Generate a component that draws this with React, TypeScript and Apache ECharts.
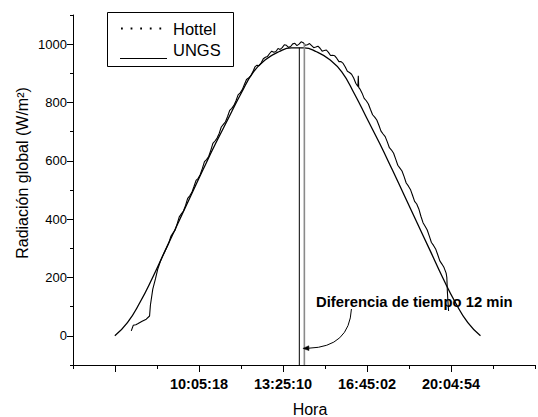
import React, { useEffect, useRef } from "react";
import * as echarts from "echarts";

// ---------- data ----------
const X_AXIS_START = "05:05:30";
const X_MINOR_STEP = "01:39:56";
const X_MINOR_COUNT = 11;
const X_MAJOR_TICKS = ["06:45:26", "10:05:18", "13:25:10", "16:45:02", "20:04:54"];
const X_TICK_LABELS = ["10:05:18", "13:25:10", "16:45:02", "20:04:54"];

const Y_MIN = -100;
const Y_MAX = 1100;
const Y_TICKS = [0, 200, 400, 600, 800, 1000];

const HOTTEL_TIMES = [
  "06:45", "07:15", "07:45", "08:15", "08:45", "09:15", "09:45", "10:15", "10:45", "11:15",
  "11:45", "12:15", "12:45", "13:15", "13:45", "14:15", "14:45", "15:15", "15:45", "16:15",
  "16:45", "17:15", "17:45", "18:15", "18:45", "19:15", "19:45", "20:15", "20:45", "21:15",
];
const HOTTEL_VALUES = [
  0, 45, 115, 200, 293, 385, 478, 570, 660, 745,
  830, 905, 948, 974, 987, 987, 974, 948, 905, 830,
  745, 660, 570, 478, 385, 293, 200, 115, 45, 0,
];

const UNGS_POINTS: [string, number][] = [
  ["07:24:10", 17], ["07:28:50", 36], ["07:35:00", 38], ["07:40:30", 42], ["07:50:00", 50],
  ["07:59:50", 57], ["08:07:40", 68], ["08:09:40", 105], ["08:15:20", 160], ["08:21:40", 195],
  ["08:27:00", 228], ["08:33:20", 255], ["08:38:40", 273], ["08:46:20", 296],
  ["08:53:20", 318], ["08:58:20", 341], ["09:03:20", 352], ["09:08:20", 362], ["09:13:20", 384],
  ["09:18:20", 408], ["09:23:20", 418], ["09:28:20", 428], ["09:33:20", 447], ["09:38:20", 471],
  ["09:43:20", 480], ["09:48:20", 492], ["09:53:20", 512], ["09:58:20", 533], ["10:03:20", 540],
  ["10:08:20", 553], ["10:13:20", 574], ["10:18:20", 597], ["10:23:20", 604], ["10:28:20", 615],
  ["10:33:20", 636], ["10:38:20", 660], ["10:43:20", 668], ["10:48:20", 678], ["10:53:20", 694],
  ["10:58:20", 716], ["11:03:20", 725], ["11:08:20", 734], ["11:13:20", 752], ["11:18:20", 773],
  ["11:23:20", 780], ["11:28:20", 790], ["11:33:20", 806], ["11:38:20", 826], ["11:43:20", 833],
  ["11:48:20", 844], ["11:53:20", 862], ["11:58:20", 879], ["12:03:20", 884], ["12:08:20", 891],
  ["12:13:20", 905], ["12:18:20", 922], ["12:23:20", 928], ["12:28:20", 926], ["12:33:20", 936],
  ["12:38:20", 950], ["12:43:20", 955], ["12:48:20", 958], ["12:53:20", 968], ["12:58:20", 976],
  ["13:03:20", 972], ["13:08:20", 975], ["13:13:20", 985], ["13:18:20", 982], ["13:23:20", 988],
  ["13:28:20", 998], ["13:33:20", 996], ["13:38:20", 989], ["13:43:20", 992], ["13:48:20", 1001],
  ["13:53:20", 1003], ["13:58:20", 995], ["14:03:20", 1000], ["14:08:20", 1008], ["14:13:20", 1005],
  ["14:18:20", 996], ["14:23:20", 998], ["14:28:20", 1002], ["14:33:20", 995], ["14:38:20", 988],
  ["14:43:20", 990], ["14:48:20", 993], ["14:53:20", 986], ["14:58:20", 976], ["15:03:20", 978],
  ["15:08:20", 980], ["15:13:20", 972], ["15:18:20", 961], ["15:23:20", 962], ["15:28:20", 960],
  ["15:33:20", 951], ["15:38:20", 940], ["15:43:20", 940], ["15:48:20", 934], ["15:53:20", 922],
  ["15:58:20", 907], ["16:03:20", 903], ["16:08:20", 897], ["16:13:20", 884], ["16:18:20", 866],
  ["16:23:20", 855], ["16:24:20", 892], ["16:25:20", 852], ["16:28:20", 846], ["16:33:20", 832],
  ["16:38:20", 814], ["16:43:20", 806], ["16:48:20", 795], ["16:53:20", 776], ["16:58:20", 758],
  ["17:03:20", 750], ["17:08:20", 740], ["17:13:20", 722], ["17:18:20", 702], ["17:23:20", 692],
  ["17:28:20", 683], ["17:33:20", 665], ["17:38:20", 645], ["17:43:20", 637], ["17:48:20", 626],
  ["17:53:20", 606], ["17:58:20", 585], ["18:03:20", 575], ["18:08:20", 565], ["18:13:20", 546],
  ["18:18:20", 524], ["18:23:20", 514], ["18:28:20", 502], ["18:33:20", 482], ["18:38:20", 461],
  ["18:43:20", 452], ["18:48:20", 435], ["18:53:20", 410], ["18:58:20", 388], ["19:03:20", 376],
  ["19:08:20", 363], ["19:13:20", 342], ["19:18:20", 320], ["19:23:20", 310], ["19:28:20", 298],
  ["19:33:20", 278], ["19:38:20", 257], ["19:43:20", 246], ["19:48:20", 234], ["19:53:20", 215],
  ["19:55:00", 200], ["19:56:20", 150], ["19:57:30", 120], ["19:59:10", 85],
];

const MARKER_TIMES = ["14:04:00", "14:16:00"];
const MARKER_TOPS = [988, 1003];
const MARKER_COLORS = ["#000000", "#8a8a8a"];

const ANNOT_TEXT = "Diferencia de tiempo 12 min";
const ANNOT_FROM: [string, number] = ["16:08:00", 92];
const ANNOT_CTRL: [string, number] = ["16:03:00", -38];
const ANNOT_TO: [string, number] = ["14:12:30", -43];

const LEGEND_NAMES = ["Hottel", "UNGS"];
const X_TITLE = "Hora";
const Y_TITLE = "Radiación global (W/m²)";

// ---------- helpers ----------
const toSec = (s: string) => {
  const p = s.split(":").map(Number);
  return p[0] * 3600 + p[1] * 60 + (p[2] || 0);
};
const pad = (n: number) => String(n).padStart(2, "0");
const fmt = (v: number) => {
  const r = Math.round(v);
  return `${pad(Math.floor(r / 3600))}:${pad(Math.floor((r % 3600) / 60))}:${pad(r % 60)}`;
};

const FONT = "Liberation Sans, Arial, Helvetica, sans-serif";

export default function App() {
  const ref = useRef<HTMLDivElement>(null);

  useEffect(() => {
    if (!ref.current) return;
    const chart = echarts.init(ref.current, null, { renderer: "svg" });

    const xMin = toSec(X_AXIS_START);
    const xStep = toSec(X_MINOR_STEP);
    const xMax = xMin + X_MINOR_COUNT * xStep;
    const majors = X_MAJOR_TICKS.map(toSec);
    const labelSecs = X_TICK_LABELS.map(toSec);

    const hottel = HOTTEL_TIMES.map((t, i) => [toSec(t), HOTTEL_VALUES[i]]);
    const ungs = UNGS_POINTS.map(([t, v]) => [toSec(t), v]);

    const markerSeries = MARKER_TIMES.map((t, i) => ({
      type: "line",
      data: [
        [toSec(t), Y_MIN],
        [toSec(t), MARKER_TOPS[i]],
      ],
      showSymbol: false,
      silent: true,
      lineStyle: { color: MARKER_COLORS[i], width: i === 0 ? 1 : 1.6 },
      z: 3,
    }));

    const staticGraphics: any[] = [
      {
        type: "rect",
        shape: { x: 107.5, y: 12.5, width: 126, height: 54 },
        style: { fill: "#fff", stroke: "#000", lineWidth: 1 },
        z: 10,
      },
      {
        type: "line",
        shape: { x1: 121, y1: 28.5, x2: 162, y2: 28.5 },
        style: { stroke: "#000", lineWidth: 1.8, lineDash: [1.8, 7.8] },
        z: 11,
      },
      {
        type: "text",
        x: 173,
        y: 29,
        style: { text: LEGEND_NAMES[0], fontFamily: FONT, fontSize: 16.5, fill: "#000", verticalAlign: "middle" },
        z: 11,
      },
      {
        type: "line",
        shape: { x1: 120, y1: 58.5, x2: 167, y2: 58.5 },
        style: { stroke: "#000", lineWidth: 1 },
        z: 11,
      },
      {
        type: "text",
        x: 173,
        y: 50,
        style: { text: LEGEND_NAMES[1], fontFamily: FONT, fontSize: 16.5, fill: "#000", verticalAlign: "middle" },
        z: 11,
      },
      {
        type: "text",
        x: 316,
        y: 302,
        style: { text: ANNOT_TEXT, fontFamily: FONT, fontSize: 14.8, fontWeight: "bold", fill: "#000", verticalAlign: "middle" },
        z: 11,
      },
      {
        type: "text",
        x: 310,
        y: 409,
        style: { text: X_TITLE, fontFamily: FONT, fontSize: 16, fill: "#000", align: "center", verticalAlign: "middle" },
      },
      {
        type: "text",
        x: 22,
        y: 173,
        rotation: Math.PI / 2,
        style: { text: Y_TITLE, fontFamily: FONT, fontSize: 16, fill: "#000", align: "center", verticalAlign: "middle" },
      },
    ];

    const option: any = {
      animation: false,
      backgroundColor: "#ffffff",
      grid: { left: 73, top: 15, width: 473, height: 350, containLabel: false },
      xAxis: [
        {
          type: "value",
          min: xMin,
          max: xMax,
          interval: xStep,
          axisLine: { show: true, onZero: false, lineStyle: { color: "#000", width: 1 } },
          axisTick: { show: true, length: 4, lineStyle: { color: "#000", width: 1 } },
          splitLine: { show: false },
          axisLabel: {
            show: true,
            margin: 11,
            color: "#000",
            fontFamily: FONT,
            fontWeight: "bold",
            fontSize: 14.5,
            formatter: (v: number) => (labelSecs.some((s) => Math.abs(s - v) < 2) ? fmt(v) : ""),
          },
        },
        {
          type: "value",
          min: xMin,
          max: xMax,
          position: "bottom",
          axisLine: { show: false, onZero: false },
          axisTick: { show: true, length: 7, customValues: majors, lineStyle: { color: "#000", width: 1 } },
          axisLabel: { show: false },
          splitLine: { show: false },
        },
      ],
      yAxis: [
        {
          type: "value",
          min: Y_MIN,
          max: Y_MAX,
          interval: 100,
          axisLine: { show: true, onZero: false, lineStyle: { color: "#000", width: 1 } },
          axisTick: { show: true, length: 3, lineStyle: { color: "#000", width: 1 } },
          splitLine: { show: false },
          axisLabel: {
            margin: 6,
            color: "#000",
            fontFamily: FONT,
            fontSize: 13,
            formatter: (v: number) => (Y_TICKS.includes(Math.round(v)) ? String(Math.round(v)) : ""),
          },
        },
        {
          type: "value",
          min: Y_MIN,
          max: Y_MAX,
          position: "left",
          axisLine: { show: false, onZero: false },
          axisTick: { show: true, length: 6, customValues: Y_TICKS, lineStyle: { color: "#000", width: 1 } },
          axisLabel: { show: false },
          splitLine: { show: false },
        },
      ],
      series: [
        {
          name: LEGEND_NAMES[0],
          type: "line",
          data: hottel,
          smooth: 0.5,
          showSymbol: false,
          silent: true,
          lineStyle: { color: "#000", width: 1.3 },
          z: 2,
        },
        {
          name: LEGEND_NAMES[1],
          type: "line",
          data: ungs,
          showSymbol: false,
          silent: true,
          lineStyle: { color: "#000", width: 1.1 },
          z: 2,
        },
        ...markerSeries,
      ],
      graphic: staticGraphics,
    };

    chart.setOption(option);

    // annotation arrow, positioned through the axes
    const toPx = (p: [string, number]) =>
      chart.convertToPixel({ xAxisIndex: 0, yAxisIndex: 0 }, [toSec(p[0]), p[1]]) as number[];
    const a = toPx(ANNOT_FROM);
    const c = toPx(ANNOT_CTRL);
    const b = toPx(ANNOT_TO);
    if (a && b && c) {
      let dx = b[0] - c[0];
      let dy = b[1] - c[1];
      const len = Math.hypot(dx, dy) || 1;
      dx /= len;
      dy /= len;
      const hl = 6;
      const hw = 2.4;
      const base = [b[0] - dx * hl, b[1] - dy * hl];
      chart.setOption({
        graphic: [
          ...staticGraphics,
          {
            type: "bezierCurve",
            shape: { x1: a[0], y1: a[1], x2: base[0], y2: base[1], cpx1: c[0], cpy1: c[1] },
            style: { stroke: "#000", lineWidth: 1, fill: null },
            z: 12,
          },
          {
            type: "polygon",
            shape: {
              points: [
                [b[0], b[1]],
                [base[0] - dy * hw, base[1] + dx * hw],
                [base[0] + dy * hw, base[1] - dx * hw],
              ],
            },
            style: { fill: "#000", stroke: "#000", lineWidth: 0.5 },
            z: 12,
          },
        ],
      });
    }

    return () => chart.dispose();
  }, []);

  return (
    <div
      ref={ref}
      style={{ position: "absolute", left: 0, top: 0, width: 538, height: 417, background: "#fff" }}
    />
  );
}
